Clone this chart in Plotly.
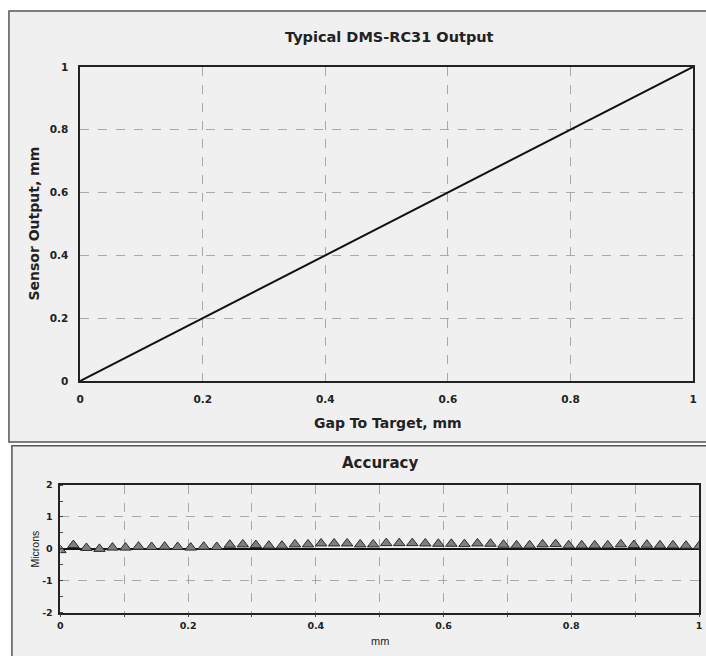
import plotly.graph_objects as go

# ---------------- data ----------------
gap_mm = [0, 0.2, 0.4, 0.6, 0.8, 1.0]
sensor_mm = [0, 0.2, 0.4, 0.6, 0.8, 1.0]

acc_x_mm = [0.000, 0.0204, 0.0408, 0.0612, 0.0816, 0.1020, 0.1224, 0.1429, 0.1633, 0.1837,
            0.2041, 0.2245, 0.2449, 0.2653, 0.2857, 0.3061, 0.3265, 0.3469, 0.3673, 0.3878,
            0.4082, 0.4286, 0.4490, 0.4694, 0.4898, 0.5102, 0.5306, 0.5510, 0.5714, 0.5918,
            0.6122, 0.6327, 0.6531, 0.6735, 0.6939, 0.7143, 0.7347, 0.7551, 0.7755, 0.7959,
            0.8163, 0.8367, 0.8571, 0.8776, 0.8980, 0.9184, 0.9388, 0.9592, 0.9796, 1.000]
acc_microns = [-0.04, 0.12, 0.03, 0.00, 0.04, 0.04, 0.07, 0.06, 0.07, 0.06,
               0.04, 0.07, 0.06, 0.13, 0.14, 0.12, 0.10, 0.10, 0.14, 0.14,
               0.17, 0.17, 0.17, 0.14, 0.14, 0.18, 0.18, 0.18, 0.17, 0.16,
               0.16, 0.15, 0.17, 0.16, 0.13, 0.11, 0.11, 0.14, 0.15, 0.11,
               0.11, 0.11, 0.11, 0.14, 0.12, 0.13, 0.11, 0.11, 0.10, 0.08]

top_ticks = [0, 0.2, 0.4, 0.6, 0.8, 1]
top_tick_text = ["0", "0.2", "0.4", "0.6", "0.8", "1"]
low_x_ticks = [0, 0.1, 0.2, 0.3, 0.4, 0.5, 0.6, 0.7, 0.8, 0.9, 1]
low_x_text = ["0", "", "0.2", "", "0.4", "", "0.6", "", "0.8", "", "1"]
low_y_ticks = [-2, -1, 0, 1, 2]
low_y_text = ["-2", "-1", "0", "1", "2"]

W, H = 706, 656
BOLD = "DejaVu Sans, Verdana, sans-serif"
PLAIN = "Arial, Liberation Sans, sans-serif"
INK = "#222222"

def px(x):
    return x / W

def py(y):
    return 1 - y / H

fig = go.Figure()

fig.add_trace(go.Scatter(x=gap_mm, y=sensor_mm, mode="lines",
                         line=dict(color="#111111", width=2),
                         xaxis="x", yaxis="y", showlegend=False))

fig.add_trace(go.Scatter(x=acc_x_mm, y=acc_microns, mode="markers",
                         marker=dict(symbol="triangle-up", size=10, color="#7f7f7f",
                                     line=dict(color="#2a2a2a", width=1)),
                         xaxis="x2", yaxis="y2", showlegend=False))

grid = dict(showgrid=True, gridcolor="#a8a8a8", griddash="dash", gridwidth=1)
boxline = dict(showline=True, linecolor="#222222", linewidth=1.5, mirror=True)
tick_top = dict(family=BOLD, size=10.5, weight="bold", color=INK)
tick_low = dict(family=BOLD, size=9.5, weight="bold", color=INK)

fig.update_layout(
    width=W, height=H,
    margin=dict(l=0, r=0, t=0, b=0),
    paper_bgcolor="white",
    plot_bgcolor="white",
    font=dict(family=PLAIN, color=INK),
    xaxis=dict(domain=[px(77), px(697)], range=[0, 1], anchor="y",
               tickvals=top_ticks, ticktext=top_tick_text, ticks="",
               ticklabelstandoff=8, tickfont=tick_top,
               zeroline=False, **grid, **boxline),
    yaxis=dict(domain=[py(382), py(62)], range=[0, 1], anchor="x",
               tickvals=top_ticks, ticktext=top_tick_text, ticks="",
               ticklabelstandoff=8, tickfont=tick_top,
               zeroline=False, **grid, **boxline),
    xaxis2=dict(domain=[px(57), px(703)], range=[0, 1], anchor="y2",
                tickvals=low_x_ticks, ticktext=low_x_text, ticks="outside",
                ticklen=3, tickcolor="#444444", tickfont=tick_low,
                zeroline=False, **grid, **boxline),
    yaxis2=dict(domain=[py(618), py(488)], range=[-2, 2], anchor="x2",
                tickvals=low_y_ticks, ticktext=low_y_text, ticks="",
                ticklabelstandoff=4, tickfont=tick_low,
                minor=dict(dtick=0.5, ticks="inside", ticklen=3, tickcolor="#444444",
                           showgrid=False),
                zeroline=True, zerolinecolor="#111111", zerolinewidth=1.5,
                **grid, **boxline),
)

# panel backgrounds
fig.add_shape(type="rect", xref="paper", yref="paper",
              x0=px(5), x1=1.02, y0=py(444), y1=py(5),
              fillcolor="#f0f0f0", line=dict(color="#555555", width=1.5), layer="below")
fig.add_shape(type="rect", xref="paper", yref="paper",
              x0=px(8), x1=1.02, y0=-0.02, y1=py(448),
              fillcolor="#f0f0f0", line=dict(color="#555555", width=1.5), layer="below")

ann = [
    dict(text="Typical DMS-RC31 Output", x=px(390), y=py(32), size=14.5, fam=BOLD, bold=True, angle=0),
    dict(text="Gap To Target, mm", x=px(388), y=py(425), size=14, fam=BOLD, bold=True, angle=0),
    dict(text="Sensor Output, mm", x=px(30), y=py(222), size=14, fam=BOLD, bold=True, angle=-90),
    dict(text="Accuracy", x=px(380), y=py(466), size=15, fam=BOLD, bold=True, angle=0),
    dict(text="mm", x=px(380), y=py(647), size=11, fam=PLAIN, bold=False, angle=0),
    dict(text="Microns", x=px(31), y=py(553), size=10.5, fam=PLAIN, bold=False, angle=-90),
]
for a in ann:
    fig.add_annotation(text=a["text"], x=a["x"], y=a["y"], xref="paper", yref="paper",
                       showarrow=False, textangle=a["angle"],
                       xanchor="center", yanchor="middle",
                       font=dict(family=a["fam"], size=a["size"], color=INK,
                                 weight="bold" if a["bold"] else "normal"))

fig.write_html("out.html", config={"displayModeBar": False},
               post_script="document.body.style.margin='0';document.body.style.overflow='hidden';")
